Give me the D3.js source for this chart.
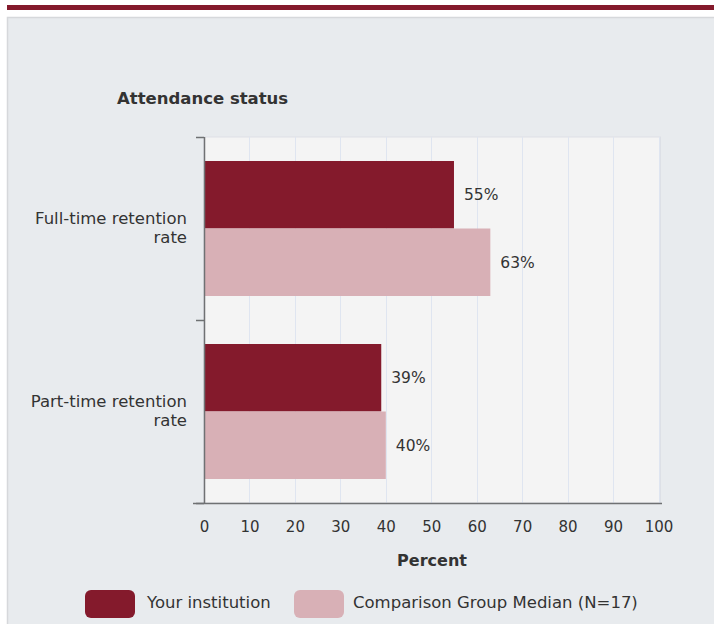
<!DOCTYPE html>
<html><head><meta charset="utf-8">
<script src="https://cdn.jsdelivr.net/npm/d3@7"></script>
<style>
html,body{margin:0;padding:0;background:#fff;}
svg{display:block;}
text{font-family:"DejaVu Sans","Liberation Sans",Arial,sans-serif;fill:#333;}
</style></head>
<body>
<script>
const categories = ["Full-time retention rate", "Part-time retention rate"];
const categoryLines = [["Full-time retention", "rate"], ["Part-time retention", "rate"]];
const seriesNames = ["Your institution", "Comparison Group Median (N=17)"];
const yourInstitution = [55, 39];
const comparisonMedian = [63, 40];
const xTicks = [0,10,20,30,40,50,60,70,80,90,100];
const colors = ["#841a2c", "#d8b0b6"];
const titleText = "Attendance status";
const xTitle = "Percent";

const W = 714, H = 624;
const svg = d3.select("body").append("svg").attr("width", W).attr("height", H);

// top bar
svg.append("rect").attr("x",7).attr("y",5).attr("width",W-7).attr("height",5).attr("fill","#841a2c");
// panel
svg.append("rect").attr("x",7.5).attr("y",17.5).attr("width",W).attr("height",H)
  .attr("fill","#e8ebee").attr("stroke","#d6d8db").attr("stroke-width",1.5);

const m = {left:204, right:658.5, top:137, bottom:503};
const x = d3.scaleLinear().domain([0,100]).range([m.left, m.right]);
const y = d3.scaleBand().domain(categories).range([m.top, m.bottom]);

// plot bg
svg.append("rect").attr("x",m.left).attr("y",m.top).attr("width",m.right-m.left+2).attr("height",m.bottom-m.top)
  .attr("fill","#f4f4f4").attr("stroke","#dde0e6").attr("stroke-width",1);

// gridlines
svg.append("g").selectAll("line").data(xTicks.slice(1)).join("line")
  .attr("x1",d=>Math.round(x(d))+0.5).attr("x2",d=>Math.round(x(d))+0.5)
  .attr("y1",m.top).attr("y2",m.bottom)
  .attr("stroke","#dfe5f0").attr("stroke-width",1);

// bars
const series = [yourInstitution, comparisonMedian];
const bandStep = y.step();
const offset = 24;
const barH = (bandStep - 2*offset)/2;
const gb = svg.append("g");
categories.forEach((c,i)=>{
  const y0 = y(c) + offset;
  series.forEach((s,j)=>{
    gb.append("rect").attr("x",x(0)).attr("y",y0 + j*barH)
      .attr("width",x(s[i])-x(0)).attr("height",barH)
      .attr("fill",colors[j]);
    gb.append("text").attr("x",x(s[i])+10).attr("y",y0 + j*barH + barH/2 + 5.5)
      .attr("font-size",15.5).text(s[i]+"%");
  });
});

// x axis
const xAxis = d3.axisBottom(x).tickValues(xTicks).tickSize(0).tickPadding(18).tickFormat(d=>d);
const gx = svg.append("g").attr("transform",`translate(0,${m.bottom})`).call(xAxis);
gx.select(".domain").remove();
gx.selectAll("text").attr("font-size",15).style("font-family",'"DejaVu Sans",sans-serif').attr("fill","#333");
svg.append("line").attr("x1",193).attr("x2",662).attr("y1",m.bottom+0.5).attr("y2",m.bottom+0.5)
  .attr("stroke","#6f7173").attr("stroke-width",1.5);

// y axis
svg.append("line").attr("x1",m.left+0.5).attr("x2",m.left+0.5).attr("y1",m.top).attr("y2",m.bottom)
  .attr("stroke","#6f7173").attr("stroke-width",1.5);
[m.top, m.top+bandStep, m.bottom].forEach(t=>{
  svg.append("line").attr("x1",196).attr("x2",m.left).attr("y1",t+0.5).attr("y2",t+0.5)
    .attr("stroke","#6f7173").attr("stroke-width",1.5);
});

// category labels
categories.forEach((c,i)=>{
  const cy = y(c) + bandStep/2;
  const t = svg.append("text").attr("text-anchor","end").attr("font-size",16.5);
  categoryLines[i].forEach((ln,k)=>{
    t.append("tspan").attr("x",187).attr("y",cy - 4.5 + k*19).text(ln);
  });
});

// title
svg.append("text").attr("x",117).attr("y",104).attr("font-size",16.5).attr("font-weight","bold").text(titleText);
svg.append("text").attr("x",432).attr("y",566).attr("text-anchor","middle").attr("font-size",16).attr("font-weight","bold").text(xTitle);

// legend
const lg = svg.append("g");
const legendX = [85, 294];
seriesNames.forEach((n,j)=>{
  lg.append("rect").attr("x",legendX[j]).attr("y",590).attr("width",50).attr("height",28).attr("rx",6)
    .attr("fill",colors[j]);
  lg.append("text").attr("x",legendX[j]+(j===0?62:59)).attr("y",608).attr("font-size",16.5).text(n);
});
</script>
</body></html>
